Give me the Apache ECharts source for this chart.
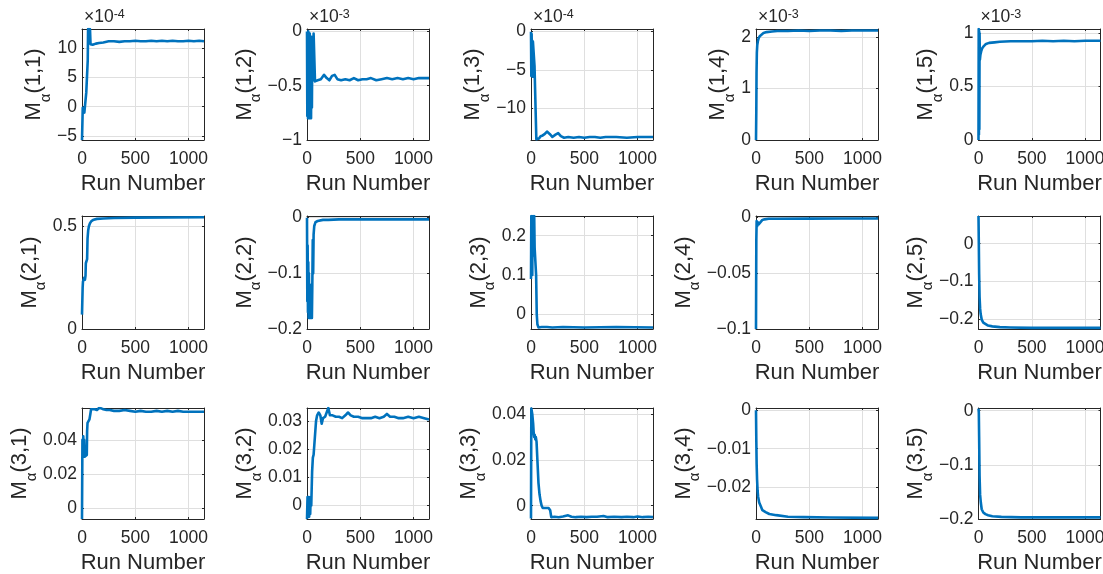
<!DOCTYPE html>
<html>
<head>
<meta charset="utf-8">
<script src="https://cdn.jsdelivr.net/npm/echarts@6/dist/echarts.min.js"></script>
<style>
  html, body { margin: 0; padding: 0; background: #ffffff; }
  #chart { width: 1103px; height: 574px; }
</style>
</head>
<body>
<div id="chart"></div>
<script>
// Shared run-number axis
const runMax = 1145;
const runTicks = [0, 500, 1000];
const xTitle = 'Run Number';

// Panel grid: 3 rows x 5 columns of M_alpha(row, col)
const panelRows = [1, 2, 3];
const panelCols = [1, 2, 3, 4, 5];

// Power of ten shown above each axis (0 = none)
const yExponent = [-4, -3, -4, -3, -3,  0, 0, 0, 0, 0,  0, 0, 0, 0, 0];

// y limits (in the axis' displayed units) and tick values per panel
const yMin = [-5.7, -1, -14.2, 0, 0,   0, -0.2, -0.037, -0.1, -0.225,   -0.0066, -0.0048, -0.0058, -0.0283, -0.2];
const yMax = [13.3, 0.022, 0.35, 2.16, 1.04,   0.55, 0.003, 0.25, 0.0015, 0.073,   0.0587, 0.0346, 0.0427, 0.0006, 0.005];
const yTicks = [
  [-5, 0, 5, 10], [-1, -0.5, 0], [-10, -5, 0], [0, 1, 2], [0, 0.5, 1],
  [0, 0.5], [-0.2, -0.1, 0], [0, 0.1, 0.2], [-0.1, -0.05, 0], [-0.2, -0.1, 0],
  [0, 0.02, 0.04], [0, 0.01, 0.02, 0.03], [0, 0.02, 0.04], [-0.02, -0.01, 0], [-0.2, -0.1, 0]
];

// Estimated M_alpha entries against run number: [run, value]
const m11 = [[0,-5.7],[4,-5.7],[7,-0.2],[10,0.1],[14,-0.4],[18,-0.2],[22,-1.0],[27,-0.7],[32,-1.1],[37,-0.8],[40,2.4],[45,2.6],[50,2.5],[54,8],[57,13.3],[61,12.2],[65,13.3],[70,12.6],[75,13.3],[80,10.7],[100,10.6],[130,10.8],[160,10.9],[200,11.0],[250,11.2],[300,11.2],[350,11.1],[400,11.2],[450,11.2],[500,11.3],[550,11.2],[600,11.2],[650,11.3],[700,11.2],[750,11.3],[800,11.2],[850,11.3],[900,11.2],[950,11.2],[1000,11.3],[1050,11.2],[1100,11.3],[1145,11.2]];
const m12 = [[0,0],[3,-0.78],[6,-0.02],[9,-0.8],[12,0],[15,-0.75],[18,-0.05],[22,-0.8],[26,-0.02],[30,-0.78],[34,-0.1],[38,-0.8],[42,-0.05],[46,-0.7],[50,-0.1],[55,-0.45],[62,-0.02],[68,-0.03],[75,-0.46],[100,-0.45],[130,-0.44],[160,-0.40],[185,-0.43],[210,-0.45],[235,-0.41],[260,-0.40],[285,-0.44],[320,-0.45],[360,-0.44],[400,-0.45],[440,-0.43],[480,-0.45],[520,-0.44],[560,-0.44],[600,-0.43],[650,-0.45],[700,-0.44],[750,-0.43],[800,-0.44],[850,-0.43],[900,-0.44],[950,-0.43],[1000,-0.44],[1050,-0.43],[1100,-0.43],[1145,-0.43]];
const m13 = [[0,0],[3,-5.8],[6,-0.3],[9,-5.5],[12,-1.2],[15,-5.9],[18,-1.3],[22,-1.4],[28,-1.5],[33,-4.5],[40,-4.7],[45,-4.6],[50,-14.1],[60,-14.2],[75,-14.0],[90,-13.7],[110,-13.6],[130,-13.4],[150,-13.1],[175,-13.4],[200,-13.8],[230,-13.5],[255,-13.3],[280,-13.7],[310,-13.9],[350,-13.8],[400,-13.9],[450,-13.8],[500,-13.9],[550,-13.8],[600,-13.8],[650,-13.9],[700,-13.8],[800,-13.8],[900,-13.9],[1000,-13.8],[1145,-13.8]];
const m14 = [[0,0],[3,0.6],[5,1.3],[8,1.7],[12,1.85],[18,1.93],[25,1.98],[35,2.02],[50,2.05],[70,2.08],[100,2.10],[150,2.11],[200,2.12],[300,2.12],[400,2.13],[500,2.12],[600,2.13],[700,2.13],[800,2.12],[900,2.13],[1000,2.13],[1145,2.13]];
const m15 = [[0,0],[2,1.04],[4,0.05],[6,1.02],[8,0.1],[10,1.0],[13,0.75],[18,0.80],[25,0.83],[35,0.86],[50,0.88],[70,0.90],[100,0.91],[150,0.915],[200,0.92],[300,0.925],[400,0.925],[500,0.925],[600,0.93],[700,0.925],[800,0.93],[900,0.925],[1000,0.93],[1145,0.93]];
const m21 = [[0,0.07],[3,0.07],[6,0.20],[9,0.23],[15,0.24],[22,0.25],[28,0.24],[33,0.26],[36,0.32],[44,0.32],[48,0.34],[52,0.44],[58,0.48],[65,0.50],[75,0.515],[88,0.525],[110,0.532],[140,0.536],[200,0.538],[300,0.54],[500,0.542],[800,0.543],[1145,0.544]];
const m22 = [[0,0],[3,-0.15],[6,-0.05],[9,-0.17],[12,-0.08],[15,-0.18],[18,-0.1],[22,-0.18],[26,-0.12],[30,-0.18],[34,-0.14],[38,-0.18],[42,-0.17],[46,-0.18],[50,-0.12],[54,-0.04],[58,-0.1],[62,-0.03],[68,-0.015],[80,-0.008],[100,-0.006],[150,-0.004],[200,-0.004],[300,-0.003],[500,-0.003],[800,-0.003],[1145,-0.003]];
const m23 = [[0,0.09],[3,0.25],[6,0.12],[9,0.25],[12,0.1],[15,0.24],[18,0.15],[22,0.25],[26,0.2],[30,0.25],[34,0.17],[40,0.17],[44,0.17],[48,0.1],[54,0.0],[60,-0.025],[70,-0.033],[100,-0.032],[150,-0.032],[200,-0.033],[300,-0.032],[500,-0.033],[800,-0.032],[1145,-0.033]];
const m24 = [[0,-0.1],[3,-0.02],[6,-0.003],[10,-0.008],[15,-0.004],[25,-0.006],[40,-0.005],[60,-0.002],[80,-0.0015],[120,-0.001],[200,-0.001],[500,-0.0009],[800,-0.0008],[1145,-0.0008]];
const m25 = [[0,0.073],[3,0.0],[6,-0.08],[10,-0.14],[15,-0.17],[20,-0.185],[30,-0.2],[45,-0.208],[60,-0.212],[90,-0.216],[130,-0.218],[200,-0.22],[300,-0.221],[500,-0.222],[800,-0.222],[1145,-0.222]];
const m31 = [[0,-0.0066],[4,0.04],[8,0.03],[12,0.042],[16,0.03],[20,0.04],[25,0.03],[30,0.031],[38,0.03],[45,0.031],[48,0.045],[52,0.05],[60,0.051],[70,0.052],[78,0.055],[85,0.058],[100,0.0585],[120,0.058],[140,0.0575],[160,0.0587],[180,0.0585],[200,0.058],[230,0.0575],[260,0.0575],[300,0.057],[350,0.057],[400,0.0575],[450,0.057],[500,0.0565],[550,0.057],[600,0.0565],[650,0.0565],[700,0.057],[750,0.0565],[800,0.057],[850,0.0565],[900,0.057],[950,0.0565],[1000,0.0565],[1050,0.0565],[1145,0.0565]];
const m32 = [[0,-0.0048],[5,0.003],[10,-0.002],[15,0.003],[20,-0.004],[25,0.002],[30,-0.003],[35,0.003],[40,0.0],[48,0.012],[55,0.017],[62,0.018],[75,0.018],[85,0.03],[95,0.032],[110,0.033],[125,0.032],[138,0.029],[150,0.031],[170,0.0315],[185,0.032],[200,0.0346],[215,0.032],[240,0.032],[270,0.0315],[300,0.0315],[330,0.031],[360,0.032],[385,0.033],[410,0.032],[440,0.0315],[480,0.0315],[520,0.031],[560,0.031],[600,0.031],[640,0.0315],[680,0.031],[720,0.0315],[750,0.0325],[780,0.0315],[820,0.0315],[860,0.031],[900,0.031],[950,0.0315],[1000,0.031],[1050,0.0315],[1100,0.031],[1145,0.0305]];
const m33 = [[0,-0.0056],[3,0.0425],[8,0.042],[12,0.04],[16,0.038],[20,0.036],[25,0.032],[30,0.03],[35,0.031],[40,0.029],[45,0.03],[52,0.028],[60,0.02],[70,0.01],[80,0.005],[90,0.002],[100,0.0],[110,-0.001],[120,-0.0015],[135,-0.001],[150,-0.0005],[165,-0.001],[180,-0.002],[190,-0.005],[220,-0.0048],[260,-0.005],[300,-0.0047],[348,-0.0042],[380,-0.0048],[420,-0.005],[470,-0.0048],[520,-0.005],[570,-0.0048],[620,-0.0048],[681,-0.0045],[720,-0.005],[780,-0.0048],[850,-0.005],[900,-0.0048],[960,-0.005],[1000,-0.0047],[1050,-0.005],[1100,-0.0048],[1145,-0.005]];
const m34 = [[0,0],[3,-0.008],[6,-0.014],[10,-0.018],[15,-0.021],[20,-0.0225],[30,-0.024],[45,-0.025],[60,-0.026],[90,-0.0265],[125,-0.027],[190,-0.0273],[300,-0.0277],[450,-0.0278],[700,-0.0279],[1145,-0.028]];
const m35 = [[0,0.004],[3,-0.003],[6,-0.05],[10,-0.12],[15,-0.155],[22,-0.17],[30,-0.182],[45,-0.188],[65,-0.191],[90,-0.193],[130,-0.195],[215,-0.196],[400,-0.197],[700,-0.197],[1145,-0.197]];

const panelData = [m11, m12, m13, m14, m15, m21, m22, m23, m24, m25, m31, m32, m33, m34, m35];

// Layout of the axes boxes (pixels)
const colLeft = [82, 307, 531, 756, 978.5];
const boxWidth = 122;
const rowTop = [29, 216, 408];
const rowBottom = [140, 329, 519];

// Styling
const fontFamily = '"Liberation Sans", Arial, Helvetica, sans-serif';
const ink = '#262626';
const gridInk = '#dfdfdf';
const lineBlue = '#0072BD';
const tickFont = 17.5;
const labelFont = 22;
const labelMargin = 5;

function fmt(v) {
  const s = String(+(+v).toPrecision(6));
  return s.replace('-', '\u2212');
}

const measureCtx = document.createElement('canvas').getContext('2d');
measureCtx.font = tickFont + 'px ' + fontFamily;
function textWidth(s) { return measureCtx.measureText(s).width; }

const grids = [], xAxes = [], yAxes = [], series = [], titles = [];

panelData.forEach((data, i) => {
  const r = Math.floor(i / 5), c = i % 5;
  const top = rowTop[r], height = rowBottom[r] - rowTop[r];
  grids.push({
    left: colLeft[c], top: top, width: boxWidth, height: height,
    outerBoundsMode: 'none', containLabel: false, show: false
  });

  const tickStyle = { show: true, inside: true, length: 2, lineStyle: { color: ink, width: 1 } };
  const axisLineStyle = { show: true, onZero: false, lineStyle: { color: ink, width: 1 } };

  // bottom run axis with labels and grid
  xAxes.push({
    gridIndex: i, type: 'value', position: 'bottom', min: 0, max: runMax,
    name: xTitle, nameLocation: 'middle', nameGap: 33,
    nameTextStyle: { fontSize: labelFont, color: ink, fontFamily: fontFamily },
    axisLine: axisLineStyle,
    axisTick: Object.assign({ customValues: runTicks }, tickStyle),
    axisLabel: { customValues: runTicks, formatter: fmt, fontSize: tickFont, color: ink, fontFamily: fontFamily, margin: 10 },
    splitLine: { show: true, lineStyle: { color: gridInk, width: 1 } }
  });
  // top mirror axis (ticks only)
  xAxes.push({
    gridIndex: i, type: 'value', position: 'top', min: 0, max: runMax,
    axisLine: axisLineStyle,
    axisTick: Object.assign({ customValues: runTicks }, tickStyle),
    axisLabel: { show: false }, splitLine: { show: false }
  });

  const ticks = yTicks[i];
  const maxLabel = Math.max.apply(null, ticks.map(t => textWidth(fmt(t))));
  const name = '{m|M}{s|\u03b1}{m|(' + panelRows[r] + ',' + panelCols[c] + ')}';
  yAxes.push({
    gridIndex: i, type: 'value', position: 'left', min: yMin[i], max: yMax[i],
    name: name, nameLocation: 'middle', nameRotate: 90,
    nameGap: labelMargin + maxLabel + 9,
    nameTextStyle: {
      color: ink, fontFamily: fontFamily,
      rich: {
        m: { fontSize: labelFont, lineHeight: 22, verticalAlign: 'top', color: ink, fontFamily: fontFamily },
        s: { fontSize: 15, lineHeight: 15, padding: [15, 0, 0, 0], verticalAlign: 'top', color: ink, fontFamily: fontFamily }
      }
    },
    axisLine: axisLineStyle,
    axisTick: Object.assign({ customValues: ticks }, tickStyle),
    axisLabel: { customValues: ticks, formatter: fmt, fontSize: tickFont, color: ink, fontFamily: fontFamily, margin: labelMargin },
    splitLine: { show: true, lineStyle: { color: gridInk, width: 1 } }
  });
  // right mirror axis (ticks only)
  yAxes.push({
    gridIndex: i, type: 'value', position: 'right', min: yMin[i], max: yMax[i],
    axisLine: axisLineStyle,
    axisTick: Object.assign({ customValues: ticks }, tickStyle),
    axisLabel: { show: false }, splitLine: { show: false }
  });

  series.push({
    type: 'line', xAxisIndex: 2 * i, yAxisIndex: 2 * i,
    data: data, showSymbol: false, symbol: 'none', clip: true,
    lineStyle: { color: lineBlue, width: 2.6, join: 'round' },
    z: 3
  });

  if (yExponent[i] !== 0) {
    titles.push({
      text: '{b|\u00d710}{p|' + yExponent[i] + '}',
      left: colLeft[c] + 2, top: 8, padding: 0,
      textStyle: {
        fontWeight: 'normal',
        rich: {
          b: { fontSize: tickFont, fontWeight: 'normal', lineHeight: 24, verticalAlign: 'top', color: ink, fontFamily: fontFamily },
          p: { fontSize: 12.5, fontWeight: 'normal', lineHeight: 12, verticalAlign: 'top', color: ink, fontFamily: fontFamily }
        }
      }
    });
  }
});

const chart = echarts.init(document.getElementById('chart'), null, { renderer: 'canvas' });
chart.setOption({
  animation: false,
  backgroundColor: '#ffffff',
  title: titles,
  grid: grids,
  xAxis: xAxes,
  yAxis: yAxes,
  series: series
});
</script>
</body>
</html>
